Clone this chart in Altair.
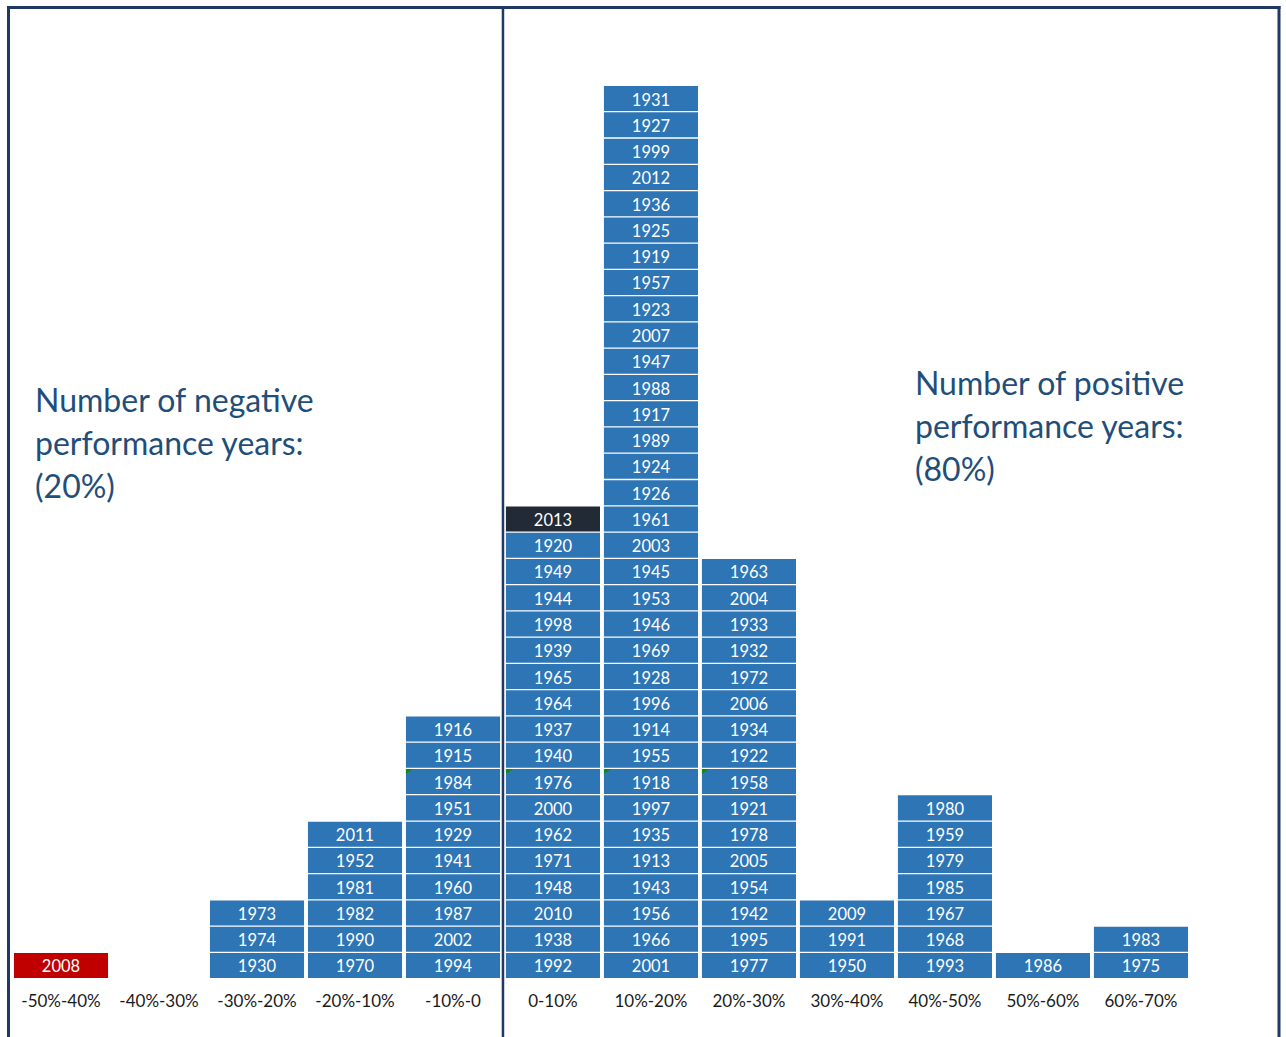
import altair as alt
import pandas as pd

# ---- data ----
bins = ["-50%-40%", "-40%-30%", "-30%-20%", "-20%-10%", "-10%-0", "0-10%",
        "10%-20%", "20%-30%", "30%-40%", "40%-50%", "50%-60%", "60%-70%"]

# years per bin, listed bottom to top
y_m50_m40 = [2008]
y_m40_m30 = []
y_m30_m20 = [1930, 1974, 1973]
y_m20_m10 = [1970, 1990, 1982, 1981, 1952, 2011]
y_m10_0 = [1994, 2002, 1987, 1960, 1941, 1929, 1951, 1984, 1915, 1916]
y_0_10 = [1992, 1938, 2010, 1948, 1971, 1962, 2000, 1976, 1940, 1937, 1964,
          1965, 1939, 1998, 1944, 1949, 1920, 2013]
y_10_20 = [2001, 1966, 1956, 1943, 1913, 1935, 1997, 1918, 1955, 1914, 1996,
           1928, 1969, 1946, 1953, 1945, 2003, 1961, 1926, 1924, 1989, 1917,
           1988, 1947, 2007, 1923, 1957, 1919, 1925, 1936, 2012, 1999, 1927, 1931]
y_20_30 = [1977, 1995, 1942, 1954, 2005, 1978, 1921, 1958, 1922, 1934, 2006,
           1972, 1932, 1933, 2004, 1963]
y_30_40 = [1950, 1991, 2009]
y_40_50 = [1993, 1968, 1967, 1985, 1979, 1959, 1980]
y_50_60 = [1986]
y_60_70 = [1975, 1983]

highlight_red = [2008]
highlight_dark = [2013]
comment_marked = [1984, 1976, 1918, 1958]

neg_text = ["Number of negative", "performance years:", "(20%)"]
pos_text = ["Number of positive", "performance years:", "(80%)"]

all_years = [y_m50_m40, y_m40_m30, y_m30_m20, y_m20_m10, y_m10_0, y_0_10,
             y_10_20, y_20_30, y_30_40, y_40_50, y_50_60, y_60_70]

rows = []
for ci, yrs in enumerate(all_years):
    for ri, yr in enumerate(yrs):
        kind = "red" if yr in highlight_red else ("dark" if yr in highlight_dark else "blue")
        rows.append({"col": ci, "row": ri, "year": str(yr), "kind": kind,
                     "marked": yr in comment_marked})
boxes = pd.DataFrame(rows)

labels = pd.DataFrame({"col": list(range(len(bins))), "label": bins, "row": -1.35})

ann_rows = []
for i, t in enumerate(neg_text):
    ann_rows.append({"col": -0.265, "row": 21.5 - 1.64 * i, "text": t})
for i, t in enumerate(pos_text):
    ann_rows.append({"col": 8.714, "row": 22.15 - 1.64 * i, "text": t})
ann = pd.DataFrame(ann_rows)

# ---- scales ----
xs = alt.Scale(domain=[-0.6224, 12.5], nice=False, zero=False)
ys = alt.Scale(domain=[-2.722, 36.753], nice=False, zero=False)

FONT = "Lato"
SHIFT = "(datum.col >= 5 ? 0.02 : 0)"

base = alt.Chart(boxes).transform_calculate(
    cx="datum.col + " + SHIFT,
    x0="datum.col + " + SHIFT + " - 0.48",
    x1="datum.col + " + SHIFT + " + 0.48",
    y0="datum.row - 0.476", y1="datum.row + 0.476"
)

rects = base.mark_rect().encode(
    x=alt.X("x0:Q", scale=xs, axis=None),
    x2="x1:Q",
    y=alt.Y("y0:Q", scale=ys, axis=None),
    y2="y1:Q",
    color=alt.Color("kind:N", legend=None,
                    scale=alt.Scale(domain=["blue", "red", "dark"],
                                    range=["#2E75B6", "#C00000", "#222A35"])),
)

year_text = base.mark_text(
    font=FONT, fontSize=16.5, color="white", baseline="middle", align="center", dy=2
).encode(
    x=alt.X("cx:Q", scale=xs, axis=None),
    y=alt.Y("row:Q", scale=ys, axis=None),
    text="year:N",
)

markers = base.transform_filter("datum.marked").mark_point(
    shape="M0,0 L2.4,0 L0,1.6 Z", filled=True, color="#0E8A16", opacity=1, size=36,
    strokeWidth=0
).encode(
    x=alt.X("x0:Q", scale=xs, axis=None),
    y=alt.Y("y1:Q", scale=ys, axis=None),
)

bin_text = alt.Chart(labels).transform_calculate(
    cx="datum.col + " + SHIFT
).mark_text(
    font=FONT, fontSize=17, color="#1a1a1a", baseline="middle", align="center", dy=1
).encode(
    x=alt.X("cx:Q", scale=xs, axis=None),
    y=alt.Y("row:Q", scale=ys, axis=None),
    text="label:N",
)

ann_text = alt.Chart(ann).mark_text(
    font=FONT, fontSize=32, color="#1F4E79", baseline="middle", align="left", dy=1
).encode(
    x=alt.X("col:Q", scale=xs, axis=None),
    y=alt.Y("row:Q", scale=ys, axis=None),
    text="text:N",
)

frame_color = "#1F3864"
divider = alt.Chart(pd.DataFrame({"col": [4.51]})).mark_rule(
    color=frame_color, strokeWidth=2.5
).encode(
    x=alt.X("col:Q", scale=xs, axis=None),
    y=alt.value(7), y2=alt.value(1037),
)

top_line = alt.Chart(pd.DataFrame({"a": [0]})).mark_rule(color=frame_color, strokeWidth=3).encode(
    x=alt.value(7), x2=alt.value(1280.5), y=alt.value(7.5))
left_line = alt.Chart(pd.DataFrame({"a": [0]})).mark_rule(color=frame_color, strokeWidth=3).encode(
    x=alt.value(8.5), y=alt.value(6), y2=alt.value(1037))
right_line = alt.Chart(pd.DataFrame({"a": [0]})).mark_rule(color=frame_color, strokeWidth=3).encode(
    x=alt.value(1279), y=alt.value(6), y2=alt.value(1037))

chart = alt.layer(
    rects, markers, year_text, bin_text, ann_text, divider, top_line, left_line, right_line
).properties(
    width=1286, height=1037, padding=0,
    autosize=alt.AutoSizeParams(type="none"),
    background="white",
).configure_view(stroke=None)

chart.save("out.html", embed_options={"renderer": "svg", "actions": False})
